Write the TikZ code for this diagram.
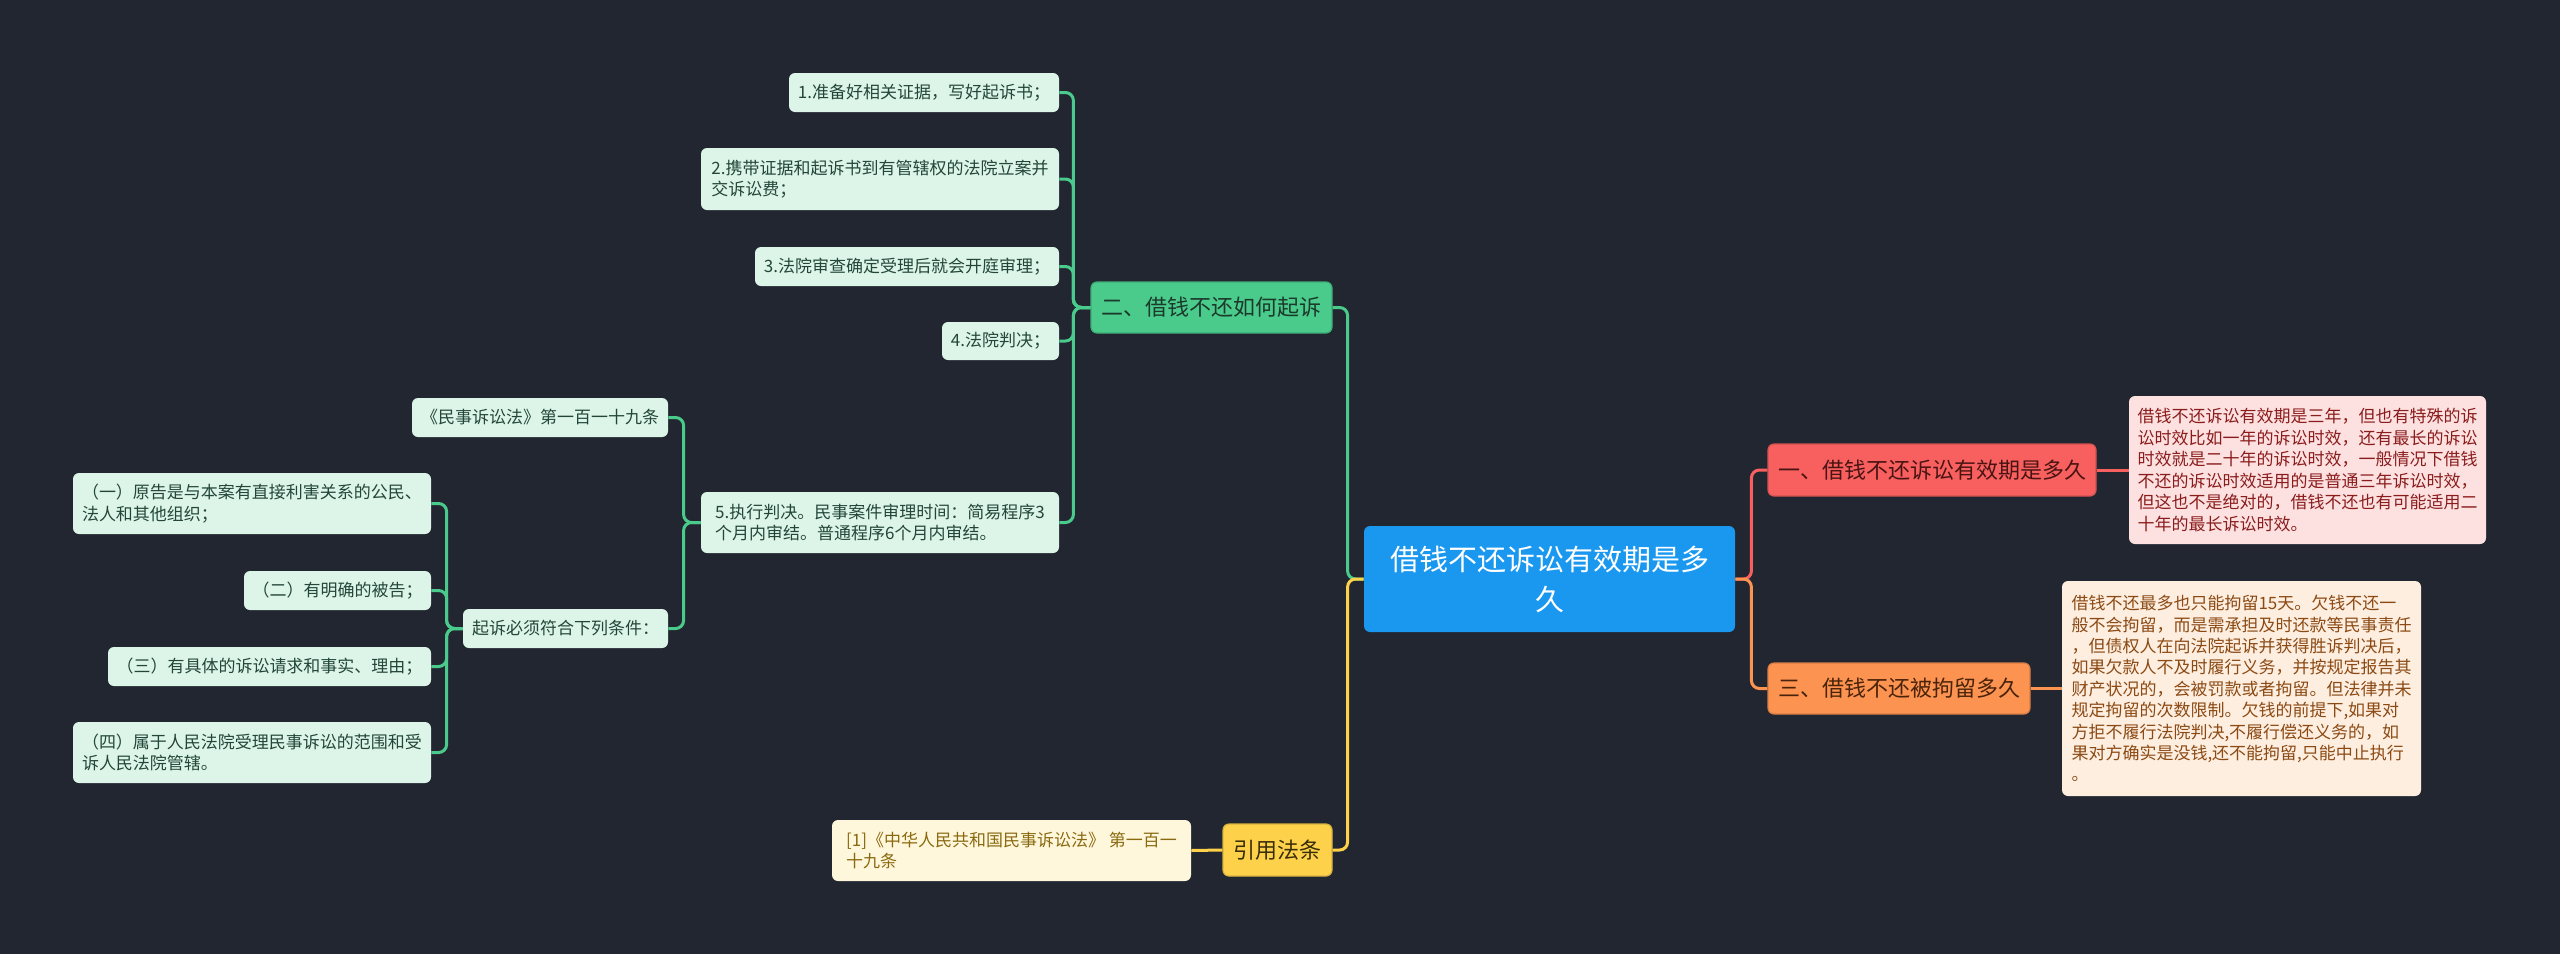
\documentclass[tikz,border=0pt]{standalone}
\usepackage{fontspec}
\setmainfont{Noto Sans CJK SC}
\definecolor{bgcol}{HTML}{222630}
\definecolor{gmain}{HTML}{4ACB8B}
\definecolor{gfill}{HTML}{DCF5E8}
\definecolor{gtext}{HTML}{24463A}
\definecolor{gbtext}{HTML}{1C3A2C}
\definecolor{rmain}{HTML}{F7605E}
\definecolor{rfill}{HTML}{FDE1E1}
\definecolor{rtext}{HTML}{8B1C1C}
\definecolor{rbtext}{HTML}{4A1414}
\definecolor{omain}{HTML}{FD9350}
\definecolor{ofill}{HTML}{FEEEE0}
\definecolor{otext}{HTML}{8B4A14}
\definecolor{obtext}{HTML}{4A240A}
\definecolor{ymain}{HTML}{FDD24A}
\definecolor{yfill}{HTML}{FFF7DB}
\definecolor{ytext}{HTML}{8A6A10}
\definecolor{ybtext}{HTML}{3A2E08}
\definecolor{rootcol}{HTML}{1A98F0}
\begin{document}
\begin{tikzpicture}[x=0.5pt,y=-0.5pt,
  box/.style={rounded corners=3pt, inner sep=0pt, align=left},
  gleaf/.style={box, fill=gfill, text=gtext, font=\fontsize{8.5pt}{10.8pt}\selectfont},
  rleaf/.style={box, fill=rfill, text=rtext, font=\fontsize{8.5pt}{10.8pt}\selectfont},
  oleaf/.style={box, fill=ofill, text=otext, font=\fontsize{8.5pt}{10.7pt}\selectfont},
  yleaf/.style={box, fill=yfill, text=ytext, font=\fontsize{8.5pt}{10.8pt}\selectfont},
  branch/.style={box, font=\fontsize{11pt}{13pt}\selectfont, line width=0.6pt},
  glink/.style={draw=gmain, line width=1.5pt, rounded corners=4pt},
  rlink/.style={draw=rmain, line width=1.5pt, rounded corners=4pt},
  olink/.style={draw=omain, line width=1.5pt, rounded corners=4pt},
  ylink/.style={draw=ymain, line width=1.5pt, rounded corners=4pt}]
\fill[bgcol] (0,0) rectangle (2560,954);
\useasboundingbox (0,0) rectangle (2560,954);

% root
\node[box, fill=rootcol, text=white, align=center, font=\fontsize{14.5pt}{20pt}\selectfont,
  minimum width=185.5pt, minimum height=53pt] (root) at (1549.5,579) {借钱不还诉讼有效期是多\\久};

% branch 2
\node[branch, fill=gmain, draw=gmain!85!black, text=gbtext, minimum width=120.5pt, minimum height=25.5pt] (b2) at (1211.5,307.5) {二、借钱不还如何起诉};
\node[gleaf, minimum width=135pt, minimum height=19.5pt] (n1) at (924,92.5) {1.准备好相关证据，写好起诉书；};
\node[gleaf, minimum width=179pt, minimum height=31pt] (n2) at (880,179) {2.携带证据和起诉书到有管辖权的法院立案并\\交诉讼费；};
\node[gleaf, minimum width=152pt, minimum height=19.5pt] (n3) at (907,266.5) {3.法院审查确定受理后就会开庭审理；};
\node[gleaf, minimum width=58.5pt, minimum height=19pt] (n4) at (1000.5,341) {4.法院判决；};
\node[gleaf, minimum width=179pt, minimum height=30.5pt] (n5) at (880,522.5) {5.执行判决。民事案件审理时间：简易程序3\\个月内审结。普通程序6个月内审结。};
\node[gleaf, minimum width=128pt, minimum height=19.5pt] (law) at (540,417.5) {《民事诉讼法》第一百一十九条};
\node[gleaf, minimum width=102.5pt, minimum height=19.5pt] (cond) at (565.5,628.5) {起诉必须符合下列条件：};
\node[gleaf, minimum width=179pt, minimum height=30.5pt] (c1) at (252,503.5) {（一）原告是与本案有直接利害关系的公民、\\法人和其他组织；};
\node[gleaf, minimum width=93.5pt, minimum height=19.5pt] (c2) at (337.5,590.5) {（二）有明确的被告；};
\node[gleaf, minimum width=161.5pt, minimum height=19.5pt] (c3) at (269.5,666.5) {（三）有具体的诉讼请求和事实、理由；};
\node[gleaf, minimum width=179pt, minimum height=30.5pt] (c4) at (252,752.5) {（四）属于人民法院受理民事诉讼的范围和受\\诉人民法院管辖。};

% branch 1
\node[branch, fill=rmain, draw=rmain!85!black, text=rbtext, minimum width=164pt, minimum height=26pt] (b1) at (1932,470) {一、借钱不还诉讼有效期是多久};
\node[rleaf, minimum width=178.5pt, minimum height=74pt] (r1) at (2307.5,470) {借钱不还诉讼有效期是三年，但也有特殊的诉\\讼时效比如一年的诉讼时效，还有最长的诉讼\\时效就是二十年的诉讼时效，一般情况下借钱\\不还的诉讼时效适用的是普通三年诉讼时效，\\但这也不是绝对的，借钱不还也有可能适用二\\十年的最长诉讼时效。};

% branch 3
\node[branch, fill=omain, draw=omain!85!black, text=obtext, minimum width=131pt, minimum height=25.5pt] (b3) at (1899,688.5) {三、借钱不还被拘留多久};
\node[oleaf, minimum width=179.5pt, minimum height=107.5pt] (o1) at (2241.5,688.5) {借钱不还最多也只能拘留15天。欠钱不还一\\般不会拘留，而是需承担及时还款等民事责任\\，但债权人在向法院起诉并获得胜诉判决后，\\如果欠款人不及时履行义务，并按规定报告其\\财产状况的，会被罚款或者拘留。但法律并未\\规定拘留的次数限制。欠钱的前提下,如果对\\方拒不履行法院判决,不履行偿还义务的，如\\果对方确实是没钱,还不能拘留,只能中止执行\\。};

% branch 4
\node[branch, fill=ymain, draw=ymain!85!black, text=ybtext, minimum width=54.5pt, minimum height=26pt] (b4) at (1277.5,850) {引用法条};
\node[yleaf, minimum width=179.5pt, minimum height=30.5pt] (y1) at (1011.5,850.5) {[1]《中华人民共和国民事诉讼法》 第一百一\\十九条};

% connectors
\draw[glink] (root.west) -- ++(-16,0) |- (b2.east);
\draw[ylink] (root.west) -- ++(-16,0) |- (b4.east);
\draw[rlink] (root.east) -- ++(16,0) |- (b1.west);
\draw[olink] (root.east) -- ++(16,0) |- (b3.west);
\foreach \c in {n1,n2,n3,n4,n5}
  \draw[glink] (b2.west) -- ++(-17,0) |- (\c.east);
\foreach \c in {law,cond}
  \draw[glink] (n5.west) -- ++(-17,0) |- (\c.east);
\foreach \c in {c1,c2,c3,c4}
  \draw[glink] (cond.west) -- ++(-16,0) |- (\c.east);
\draw[rlink] (b1.east) -- (r1.west);
\draw[olink] (b3.east) -- (o1.west);
\draw[ylink] (b4.west) -- (y1.east);
\end{tikzpicture}
\end{document}
